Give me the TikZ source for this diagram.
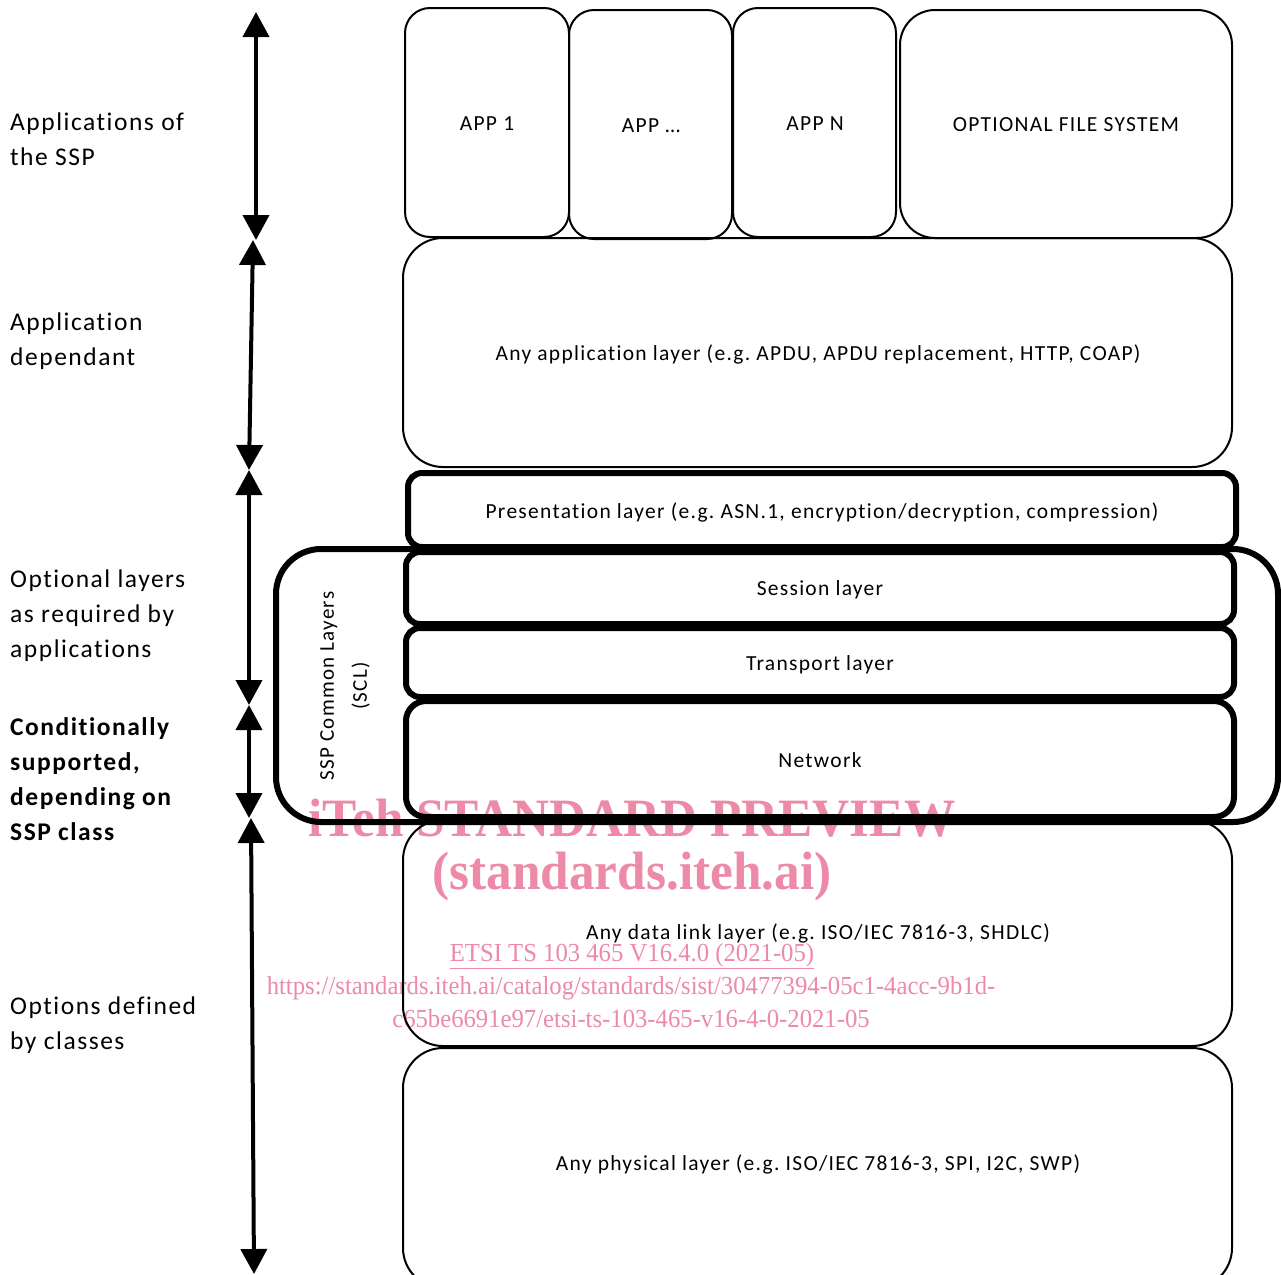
\documentclass[tikz,border=0pt]{standalone}
\usepackage{fontspec}
\setmainfont{Carlito}[LetterSpace=6,Ligatures=NoCommon]
\newfontfamily\wmfont{Liberation Serif}[FakeStretch=0.95]
\usetikzlibrary{arrows.meta}
\definecolor{wm}{RGB}{236,138,168}
\frenchspacing
\begin{document}
\begin{tikzpicture}[x=1pt,y=-1pt,
  thinbox/.style={draw,line width=2pt,rounded corners=#1,inner sep=0pt},
  thinbox/.default=25pt,
  thickbox/.style={draw,line width=6pt,rounded corners=#1,inner sep=0pt},
  thickbox/.default=14pt,
  lbl/.style={anchor=north west,align=left,inner sep=0pt,font=\fontsize{25.5}{35}\selectfont},
  dbl/.style={line width=4pt,{Triangle[width=26pt,length=25pt]}-{Triangle[width=26pt,length=25pt]}},
  wmtext/.style={text=wm,inner sep=0pt},
  btxt/.style={inner sep=0pt,font=\fontsize{21.5}{25}\selectfont}
]
\useasboundingbox (0,0) rectangle (1281,1274);
\fill[white] (0,0) rectangle (1281,1274);

% applications
\node[thinbox, minimum width=164pt, minimum height=229pt] (app1) at (487,122.5) {};
\node[thinbox, minimum width=163pt, minimum height=229pt] (appd) at (650.5,124.5) {};
\node[thinbox, minimum width=163pt, minimum height=229pt] (appn) at (814.5,122.5) {};
\node[thinbox=35pt, minimum width=332pt, minimum height=228pt] (ofs) at (1066,124) {};
\node[btxt] (t1) at (487,124) {APP 1};
\node[btxt] (t2) at (651,126) {APP \dots};
\node[btxt] (t3) at (815,124) {APP N};
\node[btxt] (t4) at (1066,125) {OPTIONAL FILE SYSTEM};

% application layer
\node[thinbox=40pt, minimum width=829pt, minimum height=229pt] (appl) at (817.5,352.5) {};
\node[btxt] (t5) at (818,354) {Any application layer (e.g. APDU, APDU replacement, HTTP, COAP)};

% SCL
\node[draw,line width=6pt,rounded corners=45pt,minimum width=1002pt,minimum height=273pt,inner sep=0pt] (scl) at (777,685.5) {};
\node[rotate=90,align=center,font=\fontsize{21}{33}\selectfont,inner sep=0pt] (scllbl) at (345,686) {SSP Common Layers\\(SCL)};

% presentation etc.
\node[thickbox, fill=white, minimum width=828pt, minimum height=74pt] (pres) at (822,510) {};
\node[thickbox, fill=white, minimum width=828pt, minimum height=72pt] (sess) at (820,588) {};
\node[thickbox, fill=white, minimum width=828pt, minimum height=69pt] (trans) at (820,662.5) {};
\node[thickbox=20pt, fill=white, minimum width=828pt, minimum height=116pt] (net) at (820,759) {};
\node[btxt] (t6) at (822,512) {Presentation layer (e.g. ASN.1, encryption/decryption, compression)};
\node[btxt] (t7) at (820,590) {Session layer};
\node[btxt] (t8) at (820,665) {Transport layer};
\node[btxt] (t9) at (820,760) {Network};

% data link, physical
\node[thinbox=40pt, minimum width=829pt, minimum height=226pt] (dl) at (817.5,933) {};
\node[thinbox=40pt, minimum width=829pt, minimum height=240pt] (phy) at (817.5,1168) {};
\node[btxt] (t10) at (818,933) {Any data link layer (e.g. ISO/IEC 7816-3, SHDLC)};
\node[btxt] (t11) at (818,1164) {Any physical layer (e.g. ISO/IEC 7816-3, SPI, I2C, SWP)};

% left arrows
\coordinate (a1t) at (256,12);  \coordinate (a1b) at (256,240);
\coordinate (a2t) at (253,240); \coordinate (a2b) at (249,470);
\coordinate (a3t) at (249,470); \coordinate (a3b) at (249,705);
\coordinate (a4t) at (249,705); \coordinate (a4b) at (249,818);
\coordinate (a5t) at (251,818); \coordinate (a5b) at (254,1274);
\draw[dbl] (a1t) -- (a1b);
\draw[dbl] (a2t) -- (a2b);
\draw[dbl] (a3t) -- (a3b);
\draw[dbl] (a4t) -- (a4b);
\draw[dbl] (a5t) -- (a5b);

% left labels
\node[lbl] (l1) at (10,113) {Applications of\\the SSP};
\node[lbl] (l2) at (10,313) {Application\\dependant};
\node[lbl] (l3) at (10,570) {Optional layers\\as required by\\applications};
\node[lbl,font=\fontsize{25.5}{35}\selectfont\bfseries] (l4) at (10,717) {Conditionally\\supported,\\depending on\\SSP class};
\node[lbl] (l5) at (10,997) {Options defined\\by classes};

% watermark
\begin{scope}[blend mode=multiply]
\node[wmtext,font=\wmfont\bfseries\fontsize{54}{60}\selectfont] (w1) at (632,818) {iTeh STANDARD PREVIEW};
\node[wmtext,font=\wmfont\bfseries\fontsize{54}{60}\selectfont] (w2) at (632,876) {(standards.iteh.ai)};
\node[wmtext,font=\wmfont\fontsize{26}{30}\selectfont] (w3) at (632,956) {\underline{ETSI TS 103 465 V16.4.0 (2021-05)}};
\node[wmtext,font=\wmfont\fontsize{26}{30}\selectfont] (w4) at (631,988) {https://standards.iteh.ai/catalog/standards/sist/30477394-05c1-4acc-9b1d-};
\node[wmtext,font=\wmfont\fontsize{26}{30}\selectfont] (w5) at (631,1019) {c65be6691e97/etsi-ts-103-465-v16-4-0-2021-05};
\end{scope}
\end{tikzpicture}
\end{document}
